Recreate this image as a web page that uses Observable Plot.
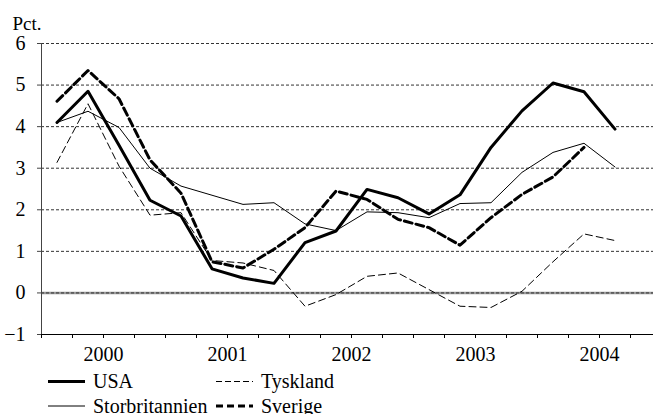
<!DOCTYPE html>
<html>
<head>
<meta charset="utf-8">
<script src="https://cdn.jsdelivr.net/npm/d3@7"></script>
<script src="https://cdn.jsdelivr.net/npm/@observablehq/plot@0.6"></script>
<style>
  html, body { margin: 0; padding: 0; background: #fff; }
  #wrap { position: relative; width: 653px; height: 414px; overflow: hidden; font-family: 'Liberation Serif', 'Tinos', 'DejaVu Serif', serif; }
  #legend { position: absolute; left: 0; top: 365px; overflow: visible; }
  #chart svg text { font-family: 'Liberation Serif', 'Tinos', 'DejaVu Serif', serif; }
</style>
</head>
<body>
<div id="wrap"><div id="chart"></div><svg id="legend" width="653" height="49"></svg></div>
<script>
// Quarterly data, 2000 K1 .. 2004 K3
const years = [2000, 2001, 2002, 2003, 2004];
const usa = [4.1, 4.85, 3.55, 2.23, 1.85, 0.58, 0.36, 0.23, 1.21, 1.49, 2.49, 2.29, 1.9, 2.36, 3.5, 4.38, 5.05, 4.84, 3.94];
const storbritannien = [4.1, 4.37, 3.98, 3.0, 2.57, 2.35, 2.13, 2.17, 1.66, 1.5, 1.95, 1.93, 1.81, 2.15, 2.17, 2.9, 3.38, 3.6, 3.03];
const tyskland = [3.14, 4.55, 3.05, 1.87, 1.93, 0.78, 0.72, 0.54, -0.32, -0.04, 0.4, 0.48, 0.08, -0.32, -0.35, 0.04, 0.75, 1.42, 1.26];
const sverige = [4.61, 5.35, 4.67, 3.2, 2.4, 0.75, 0.6, 1.05, 1.57, 2.45, 2.25, 1.77, 1.57, 1.15, 1.81, 2.37, 2.79, 3.5];
const yTicks = [-1, 0, 1, 2, 3, 4, 5, 6];
const gridValues = [0, 1, 2, 3, 4, 5, 6];

const FONT = "'Liberation Serif', 'Tinos', 'DejaVu Serif', serif";
const toRows = arr => arr.map((v, i) => ({t: 2000 + (i + 0.5) / 4, v}));
const quarterBounds = d3.range(0, 20).map(k => 2000 + k / 4);
const yearCenters = years.map(y => y + 0.5);

const chart = Plot.plot({
  width: 653,
  height: 365,
  marginLeft: 41,
  marginRight: 0,
  marginTop: 43,
  marginBottom: 31,
  style: {fontFamily: FONT, fontSize: "20px", color: "#000", background: "#fff"},
  x: {domain: [2000, 2000 + 612 / 124]},
  y: {domain: [-1, 6]},
  marks: [
    Plot.ruleY([0], {stroke: "#999", strokeWidth: 2.5}),
    Plot.ruleY(gridValues, {stroke: "#333", strokeDasharray: "3,2", strokeWidth: 1}),
    Plot.ruleY([-1], {stroke: "#000", strokeWidth: 1}),
    Plot.ruleX([2000], {y1: -1, y2: 6, stroke: "#444", strokeWidth: 1}),
    Plot.axisY(yTicks, {tickSize: 4, tickPadding: 12, label: null, stroke: "#444"}),
    Plot.axisX(quarterBounds, {tickSize: 4, tickFormat: () => "", label: null, stroke: "#000"}),
    Plot.axisX(yearCenters, {tickSize: 0, tickPadding: 12, label: null, tickFormat: d => String(Math.floor(d))}),
    Plot.line(toRows(tyskland), {x: "t", y: "v", stroke: "#000", strokeWidth: 1, strokeDasharray: "7,4"}),
    Plot.line(toRows(storbritannien), {x: "t", y: "v", stroke: "#000", strokeWidth: 1}),
    Plot.line(toRows(sverige), {x: "t", y: "v", stroke: "#000", strokeWidth: 3, strokeDasharray: "8,4"}),
    Plot.line(toRows(usa), {x: "t", y: "v", stroke: "#000", strokeWidth: 3}),
    Plot.text(["Pct."], {frameAnchor: "top-left", dx: -29, dy: -14, textAnchor: "start", lineAnchor: "bottom", fontSize: 19})
  ]
});
document.getElementById("chart").appendChild(chart);

// Legend
const legendItems = [
  {name: "USA", x: 48, y: 16.5, w: 3, dash: null},
  {name: "Storbritannien", x: 48, y: 41, w: 1, dash: null},
  {name: "Tyskland", x: 216, y: 16.5, w: 1, dash: "6,3"},
  {name: "Sverige", x: 216, y: 41, w: 3, dash: "7,4"}
];
const lg = d3.select("#legend");
for (const it of legendItems) {
  lg.append("line").attr("x1", it.x).attr("x2", it.x + 37).attr("y1", it.y).attr("y2", it.y)
    .attr("stroke", "#000").attr("stroke-width", it.w).attr("stroke-dasharray", it.dash);
  lg.append("text").attr("x", it.x + 45).attr("y", it.y + 6.5).attr("font-size", 20)
    .style("font-family", FONT).text(it.name);
}
</script>
</body>
</html>
